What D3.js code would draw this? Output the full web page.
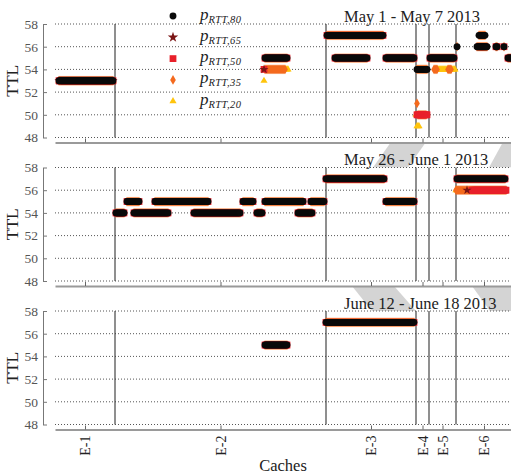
<!DOCTYPE html>
<html>
<head>
<meta charset="utf-8">
<script src="https://cdn.jsdelivr.net/npm/d3@7/dist/d3.min.js"></script>
<style>
  body { margin: 0; background: #fff; }
</style>
</head>
<body>
<div id="chart-area"></div>
<script>

    // categories (caches) and how many cache ids fall in each group
    var cacheGroups = ['E-1', 'E-2', 'E-3', 'E-4', 'E-5', 'E-6'];
    var cacheCounts = [60, 211, 90, 13, 27, 56];
    var ttlTicks = [48, 50, 52, 54, 56, 58];
    var weekTitles = ['May 1 - May 7 2013', 'May 26 - June 1 2013', 'June 12 - June 18 2013'];

    var seriesKeys = ['p80', 'p65', 'p50', 'p35', 'p20'];
    var seriesSubs = ['RTT,80', 'RTT,65', 'RTT,50', 'RTT,35', 'RTT,20'];

    // runs of cache ids with the same TTL: [ttl, first cache id, last cache id, series]
    var week1Runs = [
      [53, 4, 58, 'p80 p65 p50 p35 p20'],
      [55, 210, 232, 'p80 p50 p35'],
      [54, 210, 230, 'p35'],
      [54, 209, 209, 'p65 p50'],
      [53, 209, 209, 'p20'],
      [54, 231, 233, 'p20'],
      [57, 272, 328, 'p80 p50 p35'],
      [55, 280, 312, 'p80 p50 p35'],
      [55, 331, 359, 'p80 p50 p35'],
      [54, 362, 372, 'p80 p35'],
      [50, 363, 371, 'p35'],
      [50, 362, 372, 'p50'],
      [51, 362, 362, 'p35'],
      [49, 362, 364, 'p20'],
      [50, 361, 361, 'p20'],
      [54, 381, 400, 'p20'],
      [54, 379, 382, 'p35'],
      [54, 393, 396, 'p35'],
      [55, 375, 399, 'p80 p50 p35'],
      [56, 402, 402, 'p80 p35'],
      [57, 424, 430, 'p80 p35'],
      [56, 422, 432, 'p80 p35'],
      [56, 424, 430, 'p50'],
      [56, 441, 442, 'p80 p50 p35'],
      [56, 449, 449, 'p80 p50 p35'],
      [55, 453, 457, 'p80 p50 p35']
    ];

    var week2Runs = [
      [54, 61, 69, 'p80 p50 p35'],
      [55, 72, 84, 'p80 p50 p35'],
      [54, 79, 113, 'p80 p50 p35'],
      [55, 100, 153, 'p80 p50 p35'],
      [54, 139, 185, 'p80 p50 p35'],
      [55, 188, 198, 'p80 p50 p35'],
      [54, 202, 207, 'p80 p50 p35'],
      [55, 210, 248, 'p80 p50 p35'],
      [54, 243, 257, 'p80 p50 p35'],
      [55, 256, 269, 'p80 p50 p35'],
      [57, 271, 329, 'p80 p50 p35'],
      [55, 331, 359, 'p80 p50 p35'],
      [57, 402, 450, 'p80 p50 p35'],
      [56, 401, 403, 'p20'],
      [56, 401, 451, 'p35'],
      [56, 417, 451, 'p50'],
      [56, 412, 412, 'p65']
    ];

    var week3Runs = [
      [55, 210, 232, 'p80 p50 p35'],
      [57, 271, 359, 'p80 p50 p35']
    ];

    var weekRuns = [week1Runs, week2Runs, week3Runs];

    var W = 511, H = 474;
    var margin = { left: 55, right: 0 };
    var panelTops = [24, 167.5, 311];
    var panelH = 113.5;
    var axisGap = 5;
    var serif = "'Liberation Serif', 'DejaVu Serif', serif";

    var seriesColor = d3.scaleOrdinal()
      .domain(seriesKeys)
      .range(['#0a0a0a', '#7a1414', '#e8202a', '#f46a1e', '#ffc40c']);
    var seriesShape = d3.scaleOrdinal()
      .domain(seriesKeys)
      .range([d3.symbolCircle, d3.symbolStar, d3.symbolSquare, d3.symbolDiamond, d3.symbolTriangle]);
    var seriesSize = d3.scaleOrdinal()
      .domain(seriesKeys)
      .range([37, 26, 46, 28, 22]);

    var svg = d3.select('#chart-area')
      .append('svg')
      .attr('width', W)
      .attr('height', H)
      .attr('font-family', serif);

    // cache boundaries from the group sizes
    var bounds = [0];
    cacheCounts.forEach(function (c, i) { bounds.push(bounds[i] + c); });
    var centers = cacheGroups.map(function (c, i) { return (bounds[i] + bounds[i + 1]) / 2; });

    var xScale = d3.scaleLinear()
      .domain([0, bounds[bounds.length - 1]])
      .range([margin.left, W + 1 - margin.right]);

    // faint grey diagonal bands seen between the panels
    var bandShapes = [
      [[391, 142], [426, 142], [408, 167.5], [373, 167.5]],
      [[503, 142], [530, 142], [515, 167.5], [489, 167.5]],
      [[352, 286], [394, 286], [416, 311], [372, 311]],
      [[472, 286], [520, 286], [540, 311], [490, 311]]
    ];
    svg.append('g').selectAll('path')
      .data(bandShapes)
      .enter().append('path')
      .attr('d', function (d) { return 'M' + d.join('L') + 'Z'; })
      .attr('fill', '#d4d4d4');

    weekRuns.forEach(function (runs, p) {
      var top = panelTops[p];
      var yScale = d3.scaleLinear().domain([48, 58]).range([top + panelH, top]);
      var axisY = top + panelH + axisGap;

      var g = svg.append('g');

      g.append('rect')
        .attr('x', 44).attr('y', top)
        .attr('width', W - 44).attr('height', panelH + axisGap)
        .attr('fill', '#fff');

      // dotted grid
      g.selectAll('.grid')
        .data(ttlTicks)
        .enter().append('line')
        .attr('x1', margin.left).attr('x2', W)
        .attr('y1', function (d) { return yScale(d); })
        .attr('y2', function (d) { return yScale(d); })
        .attr('stroke', '#555')
        .attr('stroke-width', 1)
        .attr('stroke-dasharray', '1,2');

      // separators between cache groups
      g.selectAll('.sep')
        .data(bounds.slice(1, bounds.length - 1))
        .enter().append('line')
        .attr('x1', function (d) { return xScale(d); })
        .attr('x2', function (d) { return xScale(d); })
        .attr('y1', yScale(58)).attr('y2', yScale(48))
        .attr('stroke', '#333')
        .attr('stroke-width', 1.1);

      // y axis, offset to the left
      var yAxisCall = d3.axisLeft(yScale)
        .tickValues(ttlTicks)
        .tickSizeInner(-4)
        .tickSizeOuter(0)
        .tickPadding(5);
      var yAx = g.append('g')
        .attr('transform', 'translate(43,0)')
        .call(yAxisCall)
        .attr('font-family', serif)
        .attr('font-size', 13.5);
      yAx.select('.domain').attr('stroke', '#777');
      yAx.selectAll('.tick line').attr('stroke', '#777');
      yAx.selectAll('.tick text').attr('fill', '#555');

      g.append('text')
        .attr('transform', 'translate(18,' + (top + panelH / 2) + ') rotate(-90)')
        .attr('text-anchor', 'middle')
        .attr('fill', '#222')
        .attr('font-family', serif)
        .attr('font-size', 17.5)
        .text('TTL');

      // x axis
      var xAxisCall = d3.axisBottom(xScale)
        .tickValues(centers)
        .tickSizeInner(-4)
        .tickSizeOuter(0)
        .tickFormat(function (d, i) { return p === 2 ? cacheGroups[i] : ''; });
      var xAx = g.append('g')
        .attr('transform', 'translate(0,' + axisY + ')')
        .call(xAxisCall)
        .attr('font-family', serif)
        .attr('font-size', 14);
      xAx.select('.domain').attr('stroke', '#9a9a9a').attr('stroke-width', 2.2);
      xAx.selectAll('.tick line').attr('stroke', '#666');
      xAx.selectAll('.tick text')
        .attr('transform', 'rotate(-90)')
        .attr('x', -6)
        .attr('y', 0)
        .attr('dy', '0.35em')
        .attr('text-anchor', 'end')
        .attr('fill', '#222');

      g.append('text')
        .attr('x', 344)
        .attr('y', top - 2.5)
        .attr('fill', '#222')
        .attr('font-family', serif)
        .attr('font-size', 16.5)
        .text(weekTitles[p]);

      // markers, lowest percentile first so p80 ends on top
      seriesKeys.slice().reverse().forEach(function (key) {
        var pts = [];
        runs.forEach(function (r) {
          if (r[3].split(' ').indexOf(key) < 0) return;
          for (var c = r[1]; c <= r[2]; c++) pts.push({ cache: c, ttl: r[0] });
        });
        g.append('g').selectAll('path')
          .data(pts)
          .enter().append('path')
          .attr('transform', function (d) { return 'translate(' + xScale(d.cache) + ',' + yScale(d.ttl) + ')'; })
          .attr('d', d3.symbol().type(seriesShape(key)).size(seriesSize(key)))
          .attr('fill', seriesColor(key));
      });
    });

    // legend in the first panel
    var legend = svg.append('g').attr('transform', 'translate(173,16)');
    seriesKeys.forEach(function (key, i) {
      var row = legend.append('g').attr('transform', 'translate(0,' + (i * 21.3) + ')');
      row.append('path')
        .attr('d', d3.symbol().type(seriesShape(key)).size(key === 'p65' ? 34 : seriesSize(key)))
        .attr('fill', seriesColor(key));
      var t = row.append('text')
        .attr('x', 27)
        .attr('y', 3.5)
        .attr('fill', '#222')
        .attr('font-family', serif);
      t.append('tspan')
        .attr('font-style', 'italic')
        .attr('font-size', 17)
        .text('p');
      t.append('tspan')
        .attr('dy', 3)
        .attr('font-style', 'italic')
        .attr('font-size', 10.5)
        .attr('letter-spacing', 0.4)
        .text(seriesSubs[i]);
    });

    svg.append('text')
      .attr('x', (margin.left + W) / 2)
      .attr('y', 471)
      .attr('text-anchor', 'middle')
      .attr('fill', '#222')
      .attr('font-family', serif)
      .attr('font-size', 16.5)
      .text('Caches');

</script>
</body>
</html>
